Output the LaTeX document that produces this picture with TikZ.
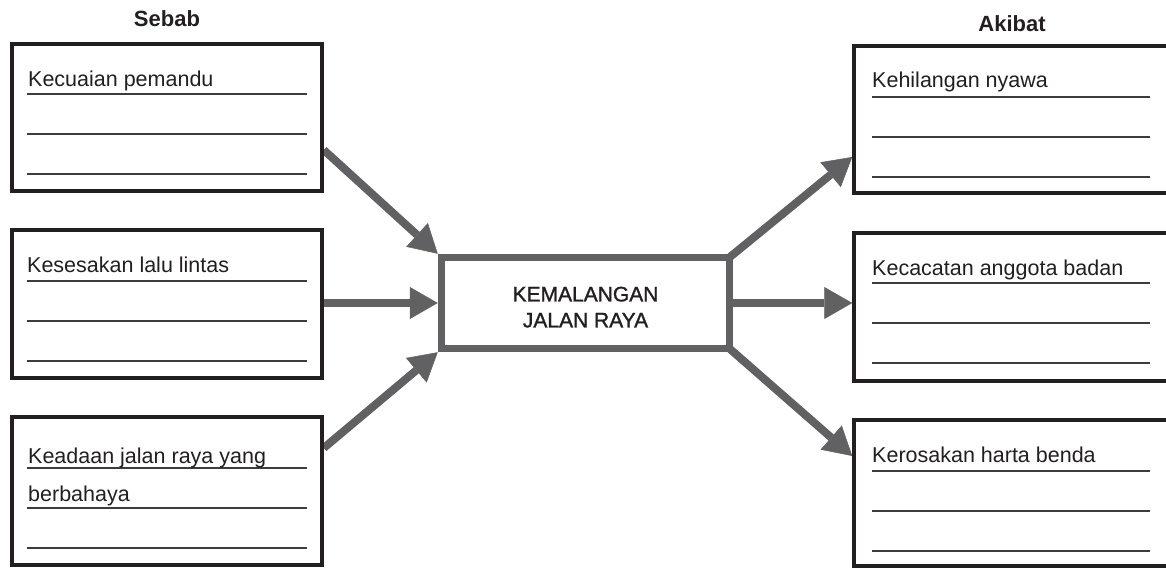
\documentclass[tikz,border=0pt]{standalone}
\usepackage{fontspec}
\setmainfont{Liberation Sans}
\newfontface\myheadface{Liberation Sans Bold}
\newfontface\myhubface{Liberation Sans}[FakeBold=1.3]
\usetikzlibrary{arrows.meta,calc,backgrounds}
\definecolor{ink}{HTML}{231F20}
\definecolor{arrowgrey}{HTML}{616163}
\definecolor{rulegrey}{HTML}{3C3C3C}
\begin{document}
\begin{tikzpicture}[x=1pt,y=-1pt,
  box/.style={draw=ink,fill=white,line width=3.5pt,minimum width=310pt,minimum height=147pt,inner sep=0pt},
  rbox/.style={box,minimum width=316pt},
  hub/.style={draw=arrowgrey,fill=white,line width=7.5pt,minimum width=288pt,minimum height=91pt,inner sep=0pt,align=center,font=\myhubface\fontsize{21}{26}\selectfont,text=ink},
  arr/.style={draw=arrowgrey,line width=8pt,-{Triangle[length=28pt,width=32pt,line width=0.5pt]}},
  rule/.style={draw=rulegrey,line width=1.2pt},
  lbl/.style={anchor=base west,inner sep=0pt,font=\fontsize{21.5}{26}\selectfont,text=ink},
  headtxt/.style={font=\myheadface\fontsize{22}{26}\selectfont,text=ink,inner sep=0pt}]
\useasboundingbox (0,0) rectangle (1166,569);
\clip (0,0) rectangle (1166,569);

\node[headtxt] (t1) at (167,19) {Sebab};
\node[headtxt] (t2) at (1012,24) {Akibat};

\node[box] (b1) at (167,117.5) {};
\node[box,minimum height=148pt] (b2) at (167,304) {};
\node[box,minimum height=148pt] (b3) at (167,491) {};
\node[rbox] (r1) at (1012,119.5) {};
\node[rbox,minimum height=148pt] (r2) at (1012,307) {};
\node[rbox,minimum height=146pt] (r3) at (1012,493) {};
\node[hub] (c) at (585.5,303) {\rule{0pt}{23pt}KEMALANGAN\\JALAN RAYA};

\begin{scope}[on background layer]
\draw[arr] ([yshift=-32.5pt]b1.east) -- (c.north west);
\draw[arr] (b2.east |- c.west) -- (c.west);
\draw[arr] ([yshift=43pt]b3.east) -- (c.south west);
\draw[arr] ([shift={(-3pt,-3pt)}]c.north east) -- ([yshift=-37.5pt]r1.west);
\draw[arr] (c.east) -- (r2.west |- c.east);
\draw[arr] ([shift={(-3pt,3pt)}]c.south east) -- ([yshift=37pt]r3.west);
\end{scope}

\foreach \y in {94,134,174,281,321,361,468,508,548} \draw[rule] (27,\y) -- (307,\y);
\foreach \y in {97,137,177,283,323,363,471,511,551} \draw[rule] (872,\y) -- (1150,\y);

\node[lbl] (l1) at (28,87) {Kecuaian pemandu};
\node[lbl] (l2) at (27,272) {Kesesakan lalu lintas};
\node[lbl] (l3) at (28,463) {Keadaan jalan raya yang};
\node[lbl] (l3b) at (28,501) {berbahaya};
\node[lbl] (m1) at (872,88) {Kehilangan nyawa};
\node[lbl] (m2) at (872,275) {Kecacatan anggota badan};
\node[lbl] (m3) at (872,462) {Kerosakan harta benda};
\end{tikzpicture}
\end{document}
